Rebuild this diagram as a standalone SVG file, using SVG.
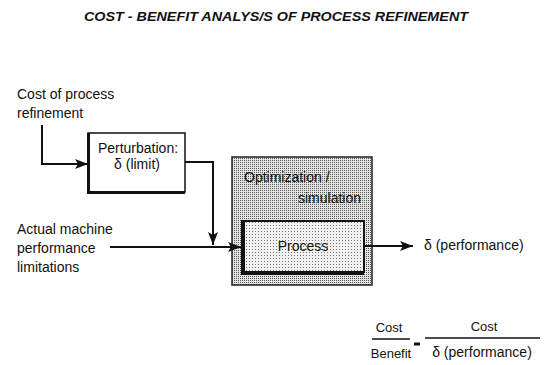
<svg xmlns="http://www.w3.org/2000/svg" width="546" height="365" viewBox="0 0 546 365">
<defs>
<style>
.t{font-family:"Liberation Sans",Arial,sans-serif;font-size:14px;fill:#111}
.f{font-family:"Liberation Sans",Arial,sans-serif;font-size:13px;fill:#111}
.title{font-family:"Liberation Sans",Arial,sans-serif;font-size:12px;font-weight:bold;font-style:italic;fill:#111}
.ln{fill:none;stroke:#111;stroke-width:2}
.box{fill:#fff;stroke:#111;stroke-width:1.5}
</style>
<pattern id="dense" width="2" height="2" patternUnits="userSpaceOnUse">
<rect width="2" height="2" fill="#e4e4e4"/>
<rect x="0" y="0" width="1" height="1" fill="#555"/>
</pattern>
<pattern id="light" width="3" height="3" patternUnits="userSpaceOnUse">
<rect width="3" height="3" fill="#f2f2f2"/>
<rect x="0" y="0" width="1" height="1" fill="#777"/>
</pattern>
<marker id="ah" viewBox="0 0 13 10" refX="13" refY="5" markerWidth="13" markerHeight="10" markerUnits="userSpaceOnUse" orient="auto">
<path d="M0,0 L13,5 L0,10 L3,5 Z" fill="#111"/>
</marker>
</defs>
<text class="title" x="84" y="21" textLength="384" lengthAdjust="spacingAndGlyphs">COST - BENEFIT ANALYS/S OF PROCESS REFINEMENT</text>

<g id="cost-label">
<text class="t" x="17" y="99">Cost of process</text>
<text class="t" x="17" y="118">refinement</text>
</g>
<g id="machine-label">
<text class="t" x="17" y="234">Actual machine</text>
<text class="t" x="17" y="253">performance</text>
<text class="t" x="17" y="272">limitations</text>
</g>
<g id="perturbation">
<rect class="box" x="88" y="133" width="97" height="59"/>
<path d="M88.5,133 V192.5 H185" fill="none" stroke="#111" stroke-width="3"/>
<text class="t" x="138" y="153" text-anchor="middle">Perturbation:</text>
<text class="t" x="137" y="169" text-anchor="middle">δ (limit)</text>
</g>
<g id="optimization">
<rect x="232" y="157" width="140" height="128" fill="url(#dense)" stroke="#222" stroke-width="1.5"/>
<text class="t" x="244" y="182">Optimization /</text>
<text class="t" x="361" y="203" text-anchor="end">simulation</text>
</g>
<g id="process">
<rect x="242" y="221" width="122" height="51" fill="url(#light)" stroke="#111" stroke-width="2"/>
<path d="M243,221 V273 H364" fill="none" stroke="#111" stroke-width="4"/>
<text class="t" x="303" y="251" text-anchor="middle">Process</text>
</g>
<g id="output">
<text class="t" x="424" y="250">δ (performance)</text>
</g>
<g id="formula">
<text class="f" x="389" y="332" text-anchor="middle">Cost</text>
<line x1="372" y1="339" x2="410" y2="339" stroke="#111" stroke-width="1.5"/>
<text class="f" x="391" y="358" text-anchor="middle">Benefit</text>
<line x1="414" y1="344" x2="420" y2="344" stroke="#111" stroke-width="3"/>
<text class="f" x="484" y="331" text-anchor="middle">Cost</text>
<line x1="425" y1="338" x2="540" y2="338" stroke="#111" stroke-width="1.5"/>
<text class="t" x="482" y="357" text-anchor="middle">δ (performance)</text>
</g>
<g id="connectors">
<path class="ln" d="M42,125 V164 H88" marker-end="url(#ah)"/>
<path class="ln" d="M185,162 H213 V245" marker-end="url(#ah)"/>
<path class="ln" d="M110,247 H241" marker-end="url(#ah)"/>
<path class="ln" d="M364,246 H413" marker-end="url(#ah)"/>
</g>
</svg>
